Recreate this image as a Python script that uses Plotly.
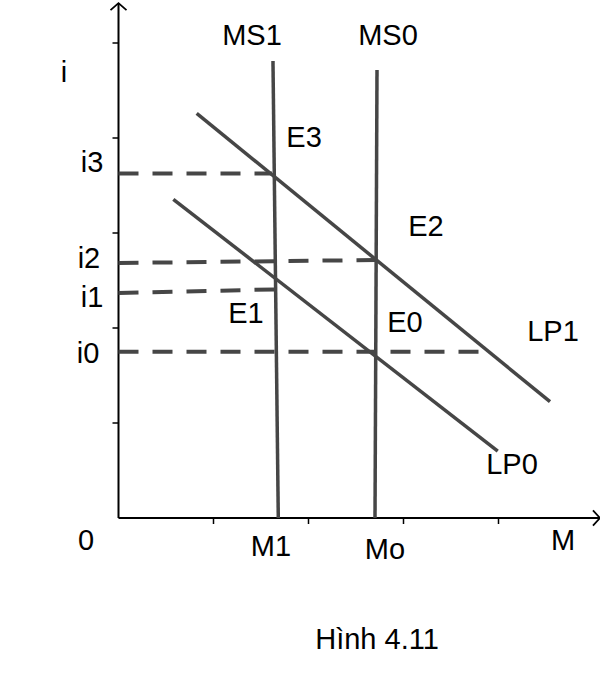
import plotly.graph_objects as go

# ---- data (units: 1 tick = 1 unit) ----
ms1_x = [1.626, 1.682]
ms1_y = [4.811, 0.0]
ms0_x = [2.721, 2.700]
ms0_y = [4.716, 0.0]
lp1_x = [0.823, 4.542]
lp1_y = [4.260, 1.224]
lp0_x = [0.577, 3.992]
lp0_y = [3.355, 0.705]

i3_x = [0.0, 1.616]
i3_y = [3.626, 3.626]
i2_x = [0.0, 2.721]
i2_y = [2.684, 2.716]
i1_x = [0.0, 1.658]
i1_y = [2.368, 2.407]
i0_x = [0.0, 3.889]
i0_y = [1.751, 1.751]

x_ticks = [1, 2, 3, 4]
y_ticks = [1, 2, 3, 4, 5]
x_axis_end = 5.068
y_axis_end = 5.42

labels = ["i", "i3", "i2", "i1", "i0", "0", "M1", "Mo", "M", "LP0", "LP1",
          "MS1", "MS0", "E3", "E2", "E0", "E1", "Hình 4.11"]
label_x = [-0.574, -0.279, -0.311, -0.279, -0.321, -0.342, 1.605, 2.805, 4.679,
           4.142, 4.574, 1.405, 2.837, 1.953, 3.237, 3.016, 1.342, 2.721]
label_y = [4.668, 3.720, 2.710, 2.299, 1.710, -0.259, -0.322, -0.353, -0.259,
           0.541, 1.941, 5.057, 5.057, 3.984, 3.047, 2.036, 2.131, -1.301]

U = 95.0
OX, OY = 118.5, 518.0
W, H = 600, 689

line_col = "rgb(70,70,70)"
fig = go.Figure()

def seg(x, y, color=line_col, width=3.5, dash=None):
    fig.add_trace(go.Scatter(x=x, y=y, mode="lines",
                             line=dict(color=color, width=width, dash=dash),
                             hoverinfo="skip", showlegend=False))

# axes
seg([0, x_axis_end], [0, 0], color="black", width=2)
seg([0, 0], [0, y_axis_end], color="black", width=2)
# arrow heads
ax = 7 / U
seg([x_axis_end - ax, x_axis_end, x_axis_end - ax], [ax * 1.1, 0, -ax * 1.1], color="black", width=1.8)
seg([-8 / U, 0, 8 / U], [y_axis_end - ax, y_axis_end, y_axis_end - ax], color="black", width=1.8)
# ticks
tl = 6 / U
tx, ty = [], []
for t in x_ticks:
    tx += [t, t, None]
    ty += [0, -tl, None]
seg(tx, ty, color="black", width=1.5)
tx, ty = [], []
for t in y_ticks:
    tx += [0, -tl, None]
    ty += [t, t, None]
seg(tx, ty, color="black", width=1.5)

# dashed guides
for xs, ys in [(i3_x, i3_y), (i2_x, i2_y), (i1_x, i1_y), (i0_x, i0_y)]:
    seg(xs, ys, width=4, dash="20px,14px")

# curves
seg(ms1_x, ms1_y)
seg(ms0_x, ms0_y)
seg(lp1_x, lp1_y)
seg(lp0_x, lp0_y)

fig.add_trace(go.Scatter(x=label_x, y=label_y, mode="text", text=labels,
                         textposition="middle center",
                         textfont=dict(family="Liberation Sans, Arial", size=29, color="black"),
                         hoverinfo="skip", showlegend=False))

fig.update_layout(
    width=W, height=H, margin=dict(l=0, r=0, t=0, b=0),
    paper_bgcolor="white", plot_bgcolor="white",
    xaxis=dict(range=[-OX / U, (W - OX) / U], visible=False, fixedrange=True),
    yaxis=dict(range=[-(H - OY) / U, OY / U], visible=False, fixedrange=True),
)
fig.write_html("out.html", config={"displayModeBar": False},
               post_script="document.body.style.margin='0';document.body.style.overflow='hidden';")
